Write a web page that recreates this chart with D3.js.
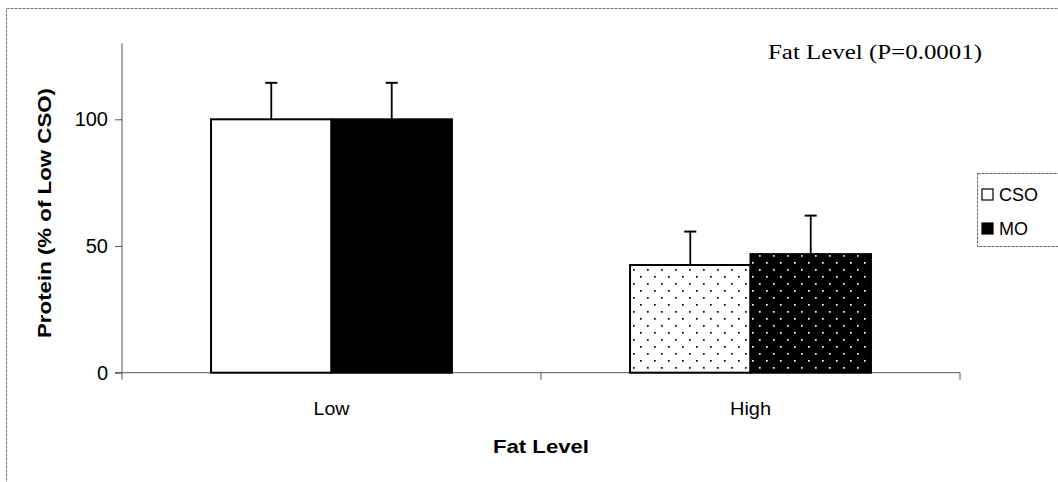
<!DOCTYPE html>
<html><head><meta charset="utf-8">
<script src="https://cdn.jsdelivr.net/npm/d3@7"></script>
<style>body{margin:0;background:#fff}svg{display:block}</style>
</head><body>
<script>
const categories = ["Low", "High"];
const seriesNames = ["CSO", "MO"];
const csoValues = [100, 42.5];
const moValues = [100, 46.8];
const csoErrors = [14.4, 13.2];
const moErrors = [14.4, 15.2];
const yTicks = [0, 50, 100];

const W = 1058, H = 482;
const FONT = "Liberation Sans, Arial, sans-serif";
const svg = d3.select("body").append("svg").attr("width", W).attr("height", H);
const defs = svg.append("defs");
function dotPattern(id, bg, fg) {
  const p = defs.append("pattern").attr("id", id).attr("patternUnits", "userSpaceOnUse")
    .attr("width", 14).attr("height", 14);
  p.append("rect").attr("width", 14).attr("height", 14).attr("fill", bg);
  p.append("rect").attr("x", 3).attr("y", 3).attr("width", 1.7).attr("height", 1.7).attr("fill", fg);
  p.append("rect").attr("x", 10).attr("y", 10).attr("width", 1.7).attr("height", 1.7).attr("fill", fg);
}
dotPattern("dotsW", "#fff", "#000");
dotPattern("dotsB", "#000", "#fff");

// outer frame
svg.append("rect").attr("x", 6.5).attr("y", 8.5).attr("width", 1060).attr("height", 480)
  .attr("fill", "none").attr("stroke", "#777").attr("stroke-width", 1).attr("stroke-dasharray", "3,1");

const pLeft = 122, pRight = 960, pTop = 43.3, pBottom = 372.7;
const x = d3.scaleBand().domain(categories).range([pLeft, pRight]).paddingInner(0).paddingOuter(0);
const y = d3.scaleLinear().domain([0, 130]).range([pBottom, pTop]);
const groupW = x.bandwidth() * 0.575;
const xs = d3.scaleBand().domain(seriesNames).range([0, groupW]);

const data = [];
categories.forEach((c, i) => {
  data.push({cat: c, s: "CSO", v: csoValues[i], e: csoErrors[i], fill: i === 0 ? "#fff" : "url(#dotsW)"});
  data.push({cat: c, s: "MO", v: moValues[i], e: moErrors[i], fill: i === 0 ? "#000" : "url(#dotsB)"});
});
const gx = c => x(c) + (x.bandwidth() - groupW) / 2;

// axes
const yAxis = d3.axisLeft(y).tickValues(yTicks).tickSize(7).tickPadding(7);
const ya = svg.append("g").attr("transform", `translate(${pLeft},0)`).call(yAxis);
ya.select(".domain").attr("d", `M0,${pTop}V${pBottom}`).attr("stroke", "#555");
ya.selectAll(".tick line").attr("stroke", "#555");
ya.selectAll("text").attr("font-family", FONT).attr("font-size", 20).attr("fill", "#000");

const xAxis = d3.axisBottom(x).tickSize(0).tickPadding(30);
const xa = svg.append("g").attr("transform", `translate(0,${pBottom})`).call(xAxis);
xa.select(".domain").attr("d", `M${pLeft - 7},0H${pRight}`).attr("stroke", "#555");
xa.selectAll("text").attr("font-family", FONT).attr("font-size", 18).attr("fill", "#000")
  .attr("textLength", d => d === "Low" ? 36 : 41).attr("lengthAdjust", "spacingAndGlyphs");
// category boundary ticks
const bounds = [pLeft, x("High"), pRight];
svg.append("g").selectAll("line").data(bounds).join("line")
  .attr("x1", d => d).attr("x2", d => d).attr("y1", pBottom).attr("y2", pBottom + 7)
  .attr("stroke", "#555");

// error bars
const eb = svg.append("g");
data.forEach(d => {
  const cx = gx(d.cat) + xs(d.s) + xs.bandwidth() / 2;
  eb.append("line").attr("x1", cx).attr("x2", cx).attr("y1", y(d.v)).attr("y2", y(d.v + d.e))
    .attr("stroke", "#000").attr("stroke-width", 1.8);
  eb.append("line").attr("x1", cx - 6).attr("x2", cx + 6).attr("y1", y(d.v + d.e)).attr("y2", y(d.v + d.e))
    .attr("stroke", "#000").attr("stroke-width", 2);
});

// bars
svg.append("g").selectAll("rect").data(data).join("rect")
  .attr("x", d => gx(d.cat) + xs(d.s))
  .attr("y", d => y(d.v))
  .attr("width", xs.bandwidth())
  .attr("height", d => y(0) - y(d.v))
  .attr("fill", d => d.fill)
  .attr("stroke", "#000").attr("stroke-width", 2);

// axis titles
svg.append("text").attr("transform", `translate(51,213) rotate(-90)`)
  .attr("text-anchor", "middle").attr("font-family", FONT)
  .attr("font-weight", "bold").attr("font-size", 18)
  .attr("textLength", 250).attr("lengthAdjust", "spacingAndGlyphs").text("Protein (% of Low CSO)");
svg.append("text").attr("x", 541).attr("y", 453)
  .attr("text-anchor", "middle").attr("font-family", FONT)
  .attr("font-weight", "bold").attr("font-size", 18)
  .attr("textLength", 96).attr("lengthAdjust", "spacingAndGlyphs").text("Fat Level");

// annotation
svg.append("text").attr("x", 768).attr("y", 59)
  .attr("font-family", "Liberation Serif, Times New Roman, serif").attr("font-size", 20)
  .attr("textLength", 214).attr("lengthAdjust", "spacingAndGlyphs")
  .text("Fat Level (P=0.0001)");

// legend
const lg = svg.append("g");
lg.append("rect").attr("x", 977.5).attr("y", 173.5).attr("width", 100).attr("height", 73)
  .attr("fill", "#fff").attr("stroke", "#666").attr("stroke-dasharray", "3,1");
const legFills = ["#fff", "#000"];
seriesNames.forEach((s, i) => {
  const yy = 194 + i * 34;
  lg.append("rect").attr("x", 982).attr("y", yy - 5).attr("width", 11).attr("height", 11)
    .attr("fill", legFills[i]).attr("stroke", "#000").attr("stroke-width", 1.2);
  lg.append("text").attr("x", 999).attr("y", yy + 7).attr("font-family", FONT)
    .attr("font-size", 18).text(s);
});
</script>
</body></html>
